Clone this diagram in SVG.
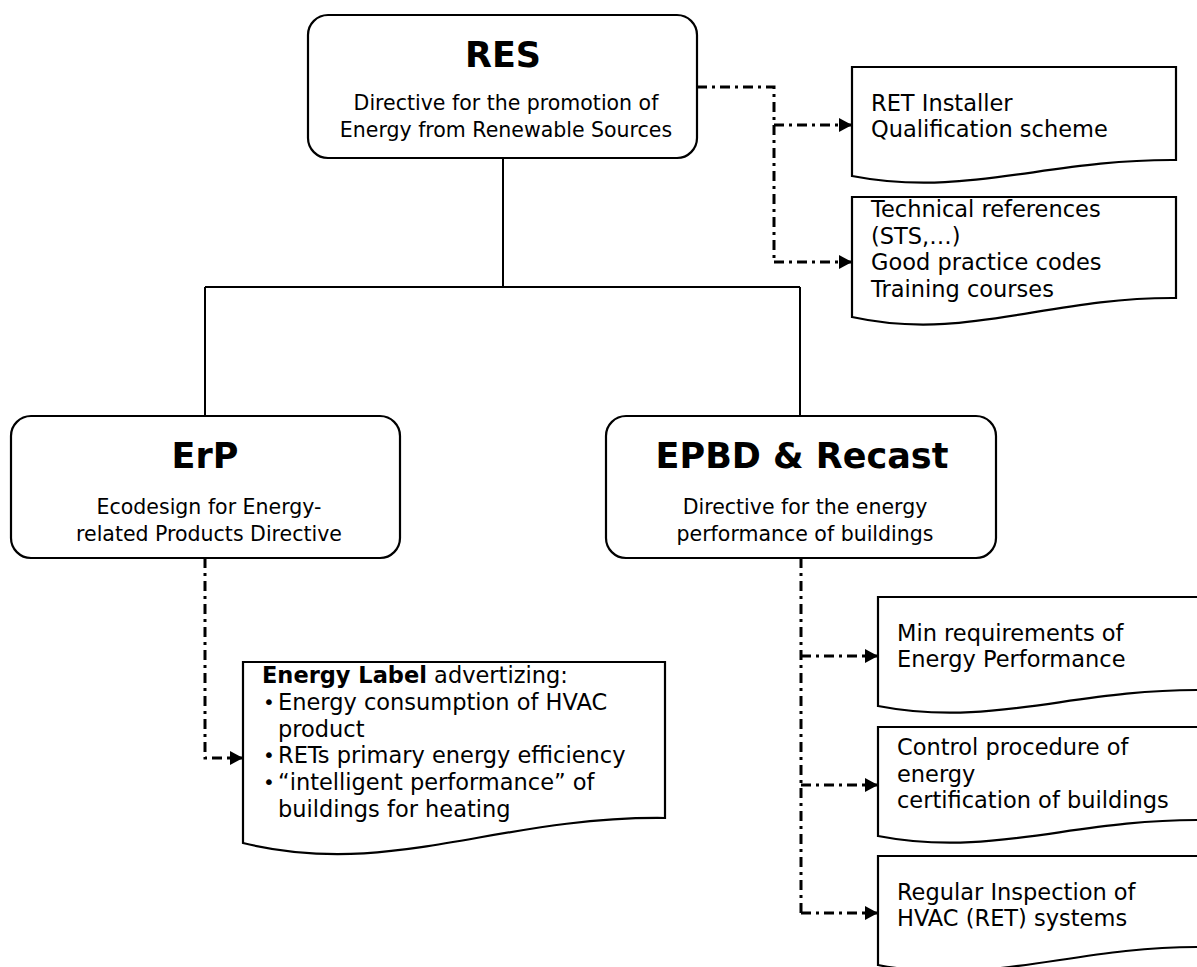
<svg xmlns="http://www.w3.org/2000/svg" width="1197" height="967" viewBox="0 0 1197 967">
<style>
  .box { fill: #fff; stroke: #000; stroke-width: 2.2; }
  .doc { fill: #fff; stroke: #000; stroke-width: 2.2; stroke-linejoin: miter; }
  .tree { fill: none; stroke: #000; stroke-width: 2; }
  .dd { fill: none; stroke: #000; stroke-width: 3; stroke-dasharray: 10 5 3 5; marker-end: url(#arr); }
  .dn { fill: none; stroke: #000; stroke-width: 3; stroke-dasharray: 10 5 3 5; }
  text { font-family: "DejaVu Sans", Verdana, sans-serif; fill: #000; }
  .title { font-size: 35px; font-weight: bold; text-anchor: middle; }
  .sub { font-size: 20.5px; text-anchor: middle; }
  .dt { font-size: 22.5px; }
  .bul { font-size: 20px; }
</style>
<defs>
  <marker id="arr" markerUnits="userSpaceOnUse" markerWidth="14" markerHeight="14" refX="13" refY="7" orient="auto">
    <path d="M0,0 L13,7 L0,14 Z" fill="#000"/>
  </marker>
</defs>
<rect width="1197" height="967" fill="#fff"/>

<g id="connectors">
  <path class="tree" d="M503,158 V287 M205,287 H800 M205,287 V416 M800,287 V416"/>
  <path class="dn" d="M697,87 H774 V262"/>
  <path class="dd" d="M774,262 H852"/>
  <path class="dd" d="M774,125 H852"/>
  <path class="dd" d="M205,558 V758 H243"/>
  <path class="dn" d="M801,558 V913"/>
  <path class="dd" d="M801,656 H878"/>
  <path class="dd" d="M801,785 H878"/>
  <path class="dd" d="M801,913 H878"/>
</g>

<g id="res">
  <rect class="box" x="308" y="15" width="389" height="143" rx="20"/>
  <text class="title" x="503" y="67">RES</text>
  <text class="sub" x="506" y="110">Directive for the promotion of</text>
  <text class="sub" x="506" y="137">Energy from Renewable Sources</text>
</g>

<g id="erp">
  <rect class="box" x="11" y="416" width="389" height="142" rx="20"/>
  <text class="title" x="205" y="468">ErP</text>
  <text class="sub" x="209" y="514">Ecodesign for Energy-</text>
  <text class="sub" x="209" y="541">related Products Directive</text>
</g>

<g id="epbd">
  <rect class="box" x="606" y="416" width="390" height="142" rx="20"/>
  <text class="title" x="802" y="468">EPBD &amp; Recast</text>
  <text class="sub" x="805" y="514">Directive for the energy</text>
  <text class="sub" x="805" y="541">performance of buildings</text>
</g>

<g id="ret-installer">
  <path class="doc" d="M852,176 V67 H1176 V160 C1046.4,159 965.4,198 852,176 Z"/>
  <text class="dt" x="871" y="111">RET Installer</text>
  <text class="dt" x="871" y="137">Qualification scheme</text>
</g>

<g id="technical-references">
  <path class="doc" d="M852,317 V197 H1176 V298 C1046.4,297 965.4,342 852,317 Z"/>
  <text class="dt" x="871" y="217">Technical references</text>
  <text class="dt" x="871" y="243.5">(STS,…)</text>
  <text class="dt" x="871" y="270">Good practice codes</text>
  <text class="dt" x="871" y="296.5">Training courses</text>
</g>

<g id="energy-label">
  <path class="doc" d="M243,843 V662 H665 V818 C496.2,816 390.7,879 243,843 Z"/>
  <text class="dt" x="262" y="683"><tspan font-weight="bold">Energy Label</tspan> advertizing:</text>
  <text class="dt bul" x="263" y="709">•</text>
  <text class="dt" x="278" y="710">Energy consumption of HVAC</text>
  <text class="dt" x="278" y="737">product</text>
  <text class="dt bul" x="263" y="762">•</text>
  <text class="dt" x="278" y="763">RETs primary energy efficiency</text>
  <text class="dt bul" x="263" y="789">•</text>
  <text class="dt" x="278" y="790">“intelligent performance” of</text>
  <text class="dt" x="278" y="817">buildings for heating</text>
</g>

<g id="min-requirements">
  <path class="doc" d="M878,706 V597 H1202 V690 C1072.4,689 991.4,728 878,706 Z"/>
  <text class="dt" x="897" y="641">Min requirements of</text>
  <text class="dt" x="897" y="667">Energy Performance</text>
</g>

<g id="control-procedure">
  <path class="doc" d="M878,836 V727 H1202 V820 C1072.4,819 991.4,858 878,836 Z"/>
  <text class="dt" x="897" y="755">Control procedure of</text>
  <text class="dt" x="897" y="781.5">energy</text>
  <text class="dt" x="897" y="808">certification of buildings</text>
</g>

<g id="regular-inspection">
  <path class="doc" d="M878,965 V856 H1202 V947 C1072.4,946 991.4,987 878,965 Z"/>
  <text class="dt" x="897" y="900">Regular Inspection of</text>
  <text class="dt" x="897" y="926">HVAC (RET) systems</text>
</g>
</svg>
